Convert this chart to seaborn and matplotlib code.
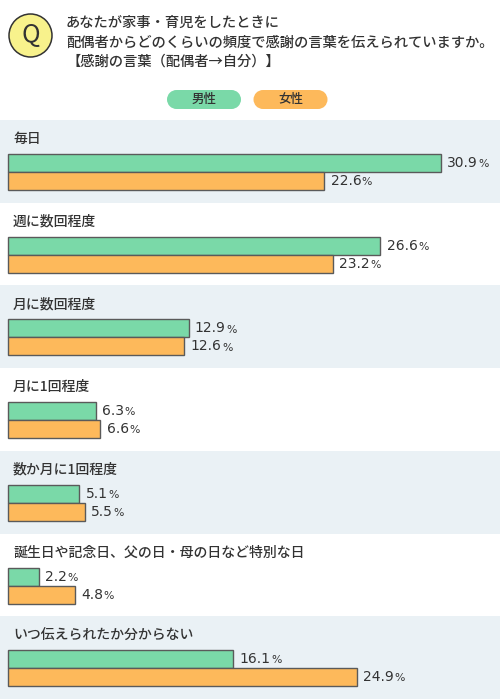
import matplotlib
matplotlib.use("Agg")
import matplotlib.pyplot as plt
from matplotlib.patches import Circle, Rectangle
import seaborn as sns
import pandas as pd

categories = ["毎日", "週に数回程度", "月に数回程度", "月に1回程度", "数か月に1回程度",
              "誕生日や記念日、父の日・母の日など特別な日", "いつ伝えられたか分からない"]
male = [30.9, 26.6, 12.9, 6.3, 5.1, 2.2, 16.1]
female = [22.6, 23.2, 12.6, 6.6, 5.5, 4.8, 24.9]
series = ["男性", "女性"]
colors = ["#7ad9a8", "#fdb95b"]
title_lines = ["あなたが家事・育児をしたときに",
               "配偶者からどのくらいの頻度で感謝の言葉を伝えられていますか。",
               "【感謝の言葉（配偶者→自分）】"]

sns.set_theme(style="white")
plt.rcParams['font.family'] = ['Noto Sans CJK JP', 'DejaVu Sans']

df = pd.DataFrame({
    "cat": categories * 2,
    "val": male + female,
    "sex": [series[0]] * len(categories) + [series[1]] * len(categories),
})

W, H = 500, 699
fig = plt.figure(figsize=(W / 100, H / 100), dpi=100)
fig.patch.set_facecolor("white")

top_px = 120
ax = fig.add_axes([0, 0, 1, (H - top_px) / H])
band_px = (H - top_px) / len(categories)
a = (172 - 120) / band_px
b = 1 - a
for i in range(len(categories)):
    if i % 2 == 0:
        ax.axhspan(i - a, i + b, color="#eaf1f5", zorder=0, lw=0)

sns.barplot(data=df, y="cat", x="val", hue="sex", orient="h", palette=colors,
            width=0.435, edgecolor="#5a5a5a", linewidth=1.0, ax=ax, legend=False,
            saturation=1, zorder=2)

scale = 14.0
ax.set_xlim(-8 / scale, (W - 8) / scale)
ax.set_ylim(len(categories) - 1 + b, -a)
ax.set_axis_off()

for i, c in enumerate(categories):
    ax.text(5 / scale, i - (172 - 139) / band_px, c, fontsize=10,
            color="#333333", va="center", ha="left", fontweight="medium")

for cont in ax.containers:
    for p in cont:
        w = p.get_width()
        yc = p.get_y() + p.get_height() / 2
        t = ax.annotate(f"{w:.1f}", xy=(w, yc), xytext=(4.5, 0), textcoords="offset points",
                        va="center", ha="left", fontsize=10, color="#333333",
                        family="DejaVu Sans")
        ax.annotate("%", xy=(1, 0.06), xycoords=t, xytext=(0.3, 0), textcoords="offset points",
                    va="bottom", ha="left", fontsize=7.8, color="#333333",
                    family="DejaVu Sans")

# header
hx = fig.add_axes([0, 0, 1, 1], zorder=-1)
hx.set_xlim(0, W)
hx.set_ylim(H, 0)
hx.set_axis_off()
hx.add_patch(Circle((30.5, 35.5), 21.5, facecolor="#f8f28c", edgecolor="#333333", lw=1.1))
hx.text(30.5, 35, "Q", ha="center", va="center", fontsize=18, color="#333333",
        family=["Noto Sans CJK JP", "DejaVu Sans"])
for y, (line, x0) in zip([23, 43, 62], zip(title_lines, [66, 66, 67])):
    hx.text(x0, y, line, ha="left", va="center", fontsize=10.3, color="#333333",
            fontweight="medium")

r = 9.5
for cx, lab, col in zip([204, 290.5], series, colors):
    hx.add_patch(Rectangle((cx - 37 + r, 99.5 - r), 74 - 2 * r, 2 * r,
                           facecolor=col, edgecolor="none"))
    hx.add_patch(Circle((cx - 37 + r, 99.5), r, facecolor=col, edgecolor="none"))
    hx.add_patch(Circle((cx + 37 - r, 99.5), r, facecolor=col, edgecolor="none"))
    hx.text(cx, 99.5, lab, ha="center", va="center", fontsize=9, color="#333333",
            fontweight="medium")

fig.savefig("out.png", dpi=100)
